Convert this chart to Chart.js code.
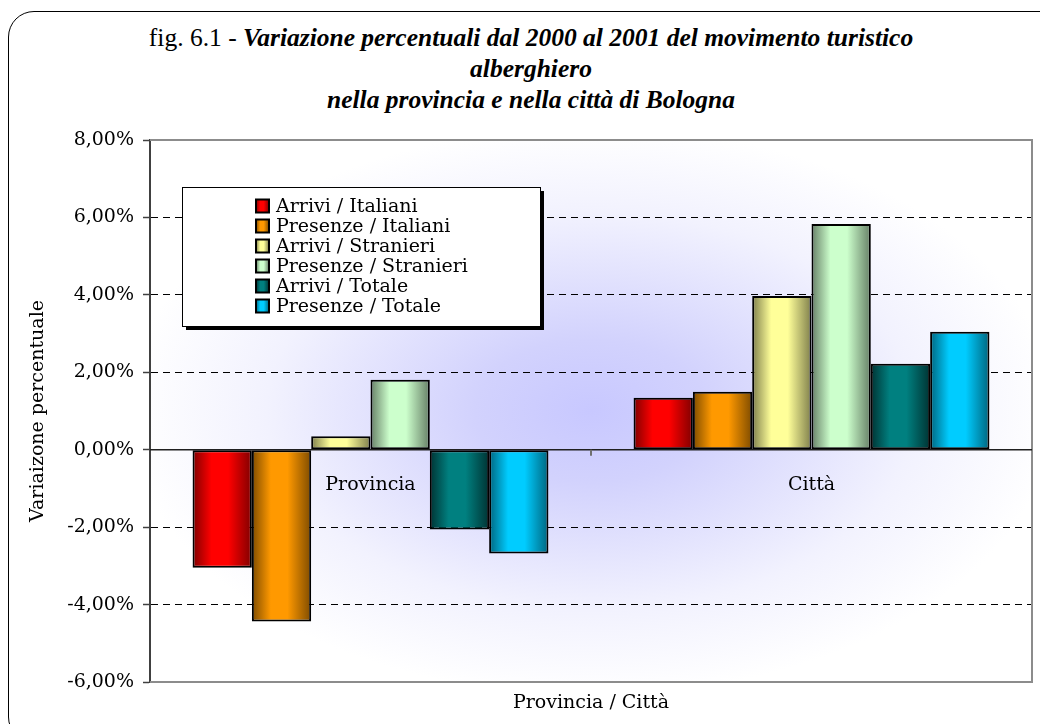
<!DOCTYPE html>
<html>
<head>
<meta charset="utf-8">
<script src="https://cdn.jsdelivr.net/npm/chart.js@4.4.0/dist/chart.umd.min.js"></script>
<style>
  html, body { margin: 0; padding: 0; background: #fff; overflow: hidden; }
  #wrap { position: relative; width: 1040px; height: 724px; overflow: hidden; }
  #frame { position: absolute; left: 8px; top: 11px; width: 1060px; height: 730px;
           border: 1.5px solid #000; border-radius: 26px; }
  #title { position: absolute; left: 0; top: 22px; width: 1062px; text-align: center;
           font-family: "Liberation Serif", serif; font-size: 25.5px; line-height: 31px; color: #000; }
  #title b { font-style: italic; }
  #myChart { position: absolute; left: 0; top: 0; }
</style>
</head>
<body>
<div id="wrap">
  <div id="frame"></div>
  <div id="title">fig. 6.1 - <b>Variazione percentuali dal 2000 al 2001 del movimento turistico<br>alberghiero<br>nella provincia e nella città di Bologna</b></div>
  <canvas id="myChart" width="1040" height="724"></canvas>
</div>
<script>
// data (percent)
const categories = ['Provincia', 'Città'];
const seriesNames = ['Arrivi / Italiani', 'Presenze / Italiani', 'Arrivi / Stranieri',
                     'Presenze / Stranieri', 'Arrivi / Totale', 'Presenze / Totale'];
const arriviItaliani = [-3.05, 1.34];
const presenzeItaliani = [-4.44, 1.50];
const arriviStranieri = [0.35, 3.97];
const presenzeStranieri = [1.81, 5.83];
const arriviTotale = [-2.06, 2.22];
const presenzeTotale = [-2.68, 3.05];
const yMin = -6, yMax = 8, yStep = 2;

// bright centre / dark edge of each cylinder
const barColors = [
  ['#ff0000', '#800000'],
  ['#ff9900', '#7f4c00'],
  ['#ffff99', '#7f7f4c'],
  ['#ccffcc', '#667f66'],
  ['#008080', '#003333'],
  ['#00ccff', '#00667f']
];
const catPct = 0.807;
const labelFont = '19px "DejaVu Serif"';

const ctx = document.getElementById('myChart').getContext('2d');

function fmtPct(v) {
  return v.toFixed(2).replace('.', ',') + '%';
}

function cylinder(c2d, left, w, pair) {
  let g = c2d.createLinearGradient(left, 0, left + w, 0);
  g.addColorStop(0, pair[1]);
  g.addColorStop(0.32, pair[0]);
  g.addColorStop(0.6, pair[0]);
  g.addColorStop(1, pair[1]);
  return g;
}

function barFill(c) {
  let chart = c.chart;
  let pair = barColors[c.datasetIndex];
  let x = chart.scales.x;
  if (c.type !== 'data' || !x) return pair[0];
  let catW = (x.right - x.left) / chart.data.labels.length;
  let groupW = catW * catPct;
  let barW = groupW / chart.data.datasets.length;
  let left = x.getPixelForValue(c.dataIndex) - groupW / 2 + c.datasetIndex * barW;
  if (!isFinite(left) || !isFinite(barW) || barW <= 0) return pair[0];
  return cylinder(chart.ctx, left, barW, pair);
}

const plotDeco = {
  id: 'plotDeco',
  beforeDraw(chart) {
    let a = chart.chartArea, c = chart.ctx;
    let cx = (a.left + a.right) / 2, cy = (a.top + a.bottom) / 2;
    let rx = (a.right - a.left) / 2, ry = (a.bottom - a.top) / 2;
    c.save();
    c.fillStyle = '#ffffff';
    c.fillRect(a.left, a.top, a.right - a.left, a.bottom - a.top);
    c.beginPath();
    c.rect(a.left, a.top, a.right - a.left, a.bottom - a.top);
    c.clip();
    c.translate(cx, cy);
    c.scale(1, ry / rx);
    let g = c.createRadialGradient(0, 0, 0, 0, 0, rx * 1.05);
    g.addColorStop(0, '#c8c8ff');
    g.addColorStop(0.25, '#d2d2fd');
    g.addColorStop(0.7, '#f2f2fe');
    g.addColorStop(1, '#ffffff');
    c.fillStyle = g;
    c.fillRect(-rx * 1.2, -rx * 1.2, rx * 2.4, rx * 2.4);
    c.restore();
  },
  beforeDatasetsDraw(chart) {
    let a = chart.chartArea, c = chart.ctx;
    let y0 = chart.scales.y.getPixelForValue(0);
    let x = chart.scales.x;
    c.save();
    // plot border (top, right, bottom)
    c.strokeStyle = '#8c8c8c';
    c.lineWidth = 2;
    c.beginPath();
    c.moveTo(a.left, a.top);
    c.lineTo(a.right, a.top);
    c.lineTo(a.right, a.bottom);
    c.lineTo(a.left, a.bottom);
    c.stroke();
    // category axis at zero
    c.strokeStyle = '#202020';
    c.lineWidth = 1.5;
    c.beginPath();
    c.moveTo(a.left, y0);
    c.lineTo(a.right, y0);
    c.stroke();
    // tick between categories
    let mid = (x.getPixelForValue(0) + x.getPixelForValue(1)) / 2;
    c.strokeStyle = '#707070';
    c.lineWidth = 2;
    c.beginPath();
    c.moveTo(mid, y0);
    c.lineTo(mid, y0 + 6);
    c.stroke();
    c.restore();
  },
  afterDatasetsDraw(chart) {
    let c = chart.ctx;
    let y0 = chart.scales.y.getPixelForValue(0);
    c.save();
    c.font = labelFont;
    c.fillStyle = '#000';
    c.textAlign = 'center';
    c.textBaseline = 'middle';
    for (let i = 0; i < categories.length; i++) {
      c.fillText(categories[i], chart.scales.x.getPixelForValue(i), y0 + 35);
    }
    c.restore();
  }
};

const boxLegend = {
  id: 'boxLegend',
  afterDraw(chart) {
    let a = chart.chartArea, c = chart.ctx;
    let bx = a.left + 32, by = a.top + 47, bw = 358, bh = 139;
    c.save();
    c.fillStyle = '#000';
    c.fillRect(bx + 4, by + 4, bw, bh);
    c.fillStyle = '#fff';
    c.fillRect(bx, by, bw, bh);
    c.strokeStyle = '#000';
    c.lineWidth = 1;
    c.strokeRect(bx + 0.5, by + 0.5, bw, bh);
    c.font = labelFont;
    c.textBaseline = 'middle';
    c.textAlign = 'left';
    chart.data.datasets.forEach((ds, i) => {
      let ry = by + 19 + i * 20;
      let sx = bx + 74, s = 13;
      c.fillStyle = cylinder(c, sx, s, barColors[i]);
      c.fillRect(sx, ry - s / 2, s, s);
      c.strokeStyle = '#000';
      c.lineWidth = 2;
      c.strokeRect(sx, ry - s / 2, s, s);
      c.fillStyle = '#000';
      c.fillText(ds.label, bx + 94, ry + 1);
    });
    c.restore();
  }
};

const seriesData = [arriviItaliani, presenzeItaliani, arriviStranieri,
                    presenzeStranieri, arriviTotale, presenzeTotale];

const myChart = new Chart(ctx, {
  type: 'bar',
  data: {
    labels: categories,
    datasets: seriesNames.map((name, i) => ({
      label: name,
      data: seriesData[i],
      backgroundColor: barFill,
      borderColor: '#000',
      borderWidth: 2,
      borderSkipped: false,
      categoryPercentage: catPct,
      barPercentage: 1
    }))
  },
  options: {
    responsive: false,
    animation: false,
    layout: { padding: { left: 0, top: 140, right: 8, bottom: 0 } },
    plugins: {
      legend: { display: false },
      title: { display: false },
      tooltip: { enabled: false }
    },
    scales: {
      x: {
        afterFit: (s) => { s.height = 42; },
        grid: { display: false },
        border: { display: false },
        ticks: { display: false },
        title: {
          display: true,
          text: 'Provincia / Città',
          color: '#000',
          font: { family: 'DejaVu Serif', size: 19 },
          padding: { top: 0, bottom: 10 }
        }
      },
      y: {
        min: yMin,
        max: yMax,
        afterFit: (s) => { s.width = 150; },
        ticks: {
          stepSize: yStep,
          color: '#000',
          padding: 9,
          font: { family: 'DejaVu Serif', size: 19 },
          callback: (v) => fmtPct(v)
        },
        grid: {
          color: (c) => (c.tick && (c.tick.value === 0 || c.tick.value === yMin || c.tick.value === yMax)) ? 'rgba(0,0,0,0)' : '#000',
          lineWidth: 1,
          tickLength: 7,
          tickColor: '#404040',
          tickWidth: 1.5,
          tickBorderDash: []
        },
        border: { display: true, color: '#404040', width: 2, dash: [7, 5] },
        title: {
          display: true,
          text: 'Variaizone percentuale',
          color: '#000',
          font: { family: 'DejaVu Serif', size: 19 },
          padding: { top: 27, bottom: 0 }
        }
      }
    }
  },
  plugins: [plotDeco, boxLegend]
});
</script>
</body>
</html>
